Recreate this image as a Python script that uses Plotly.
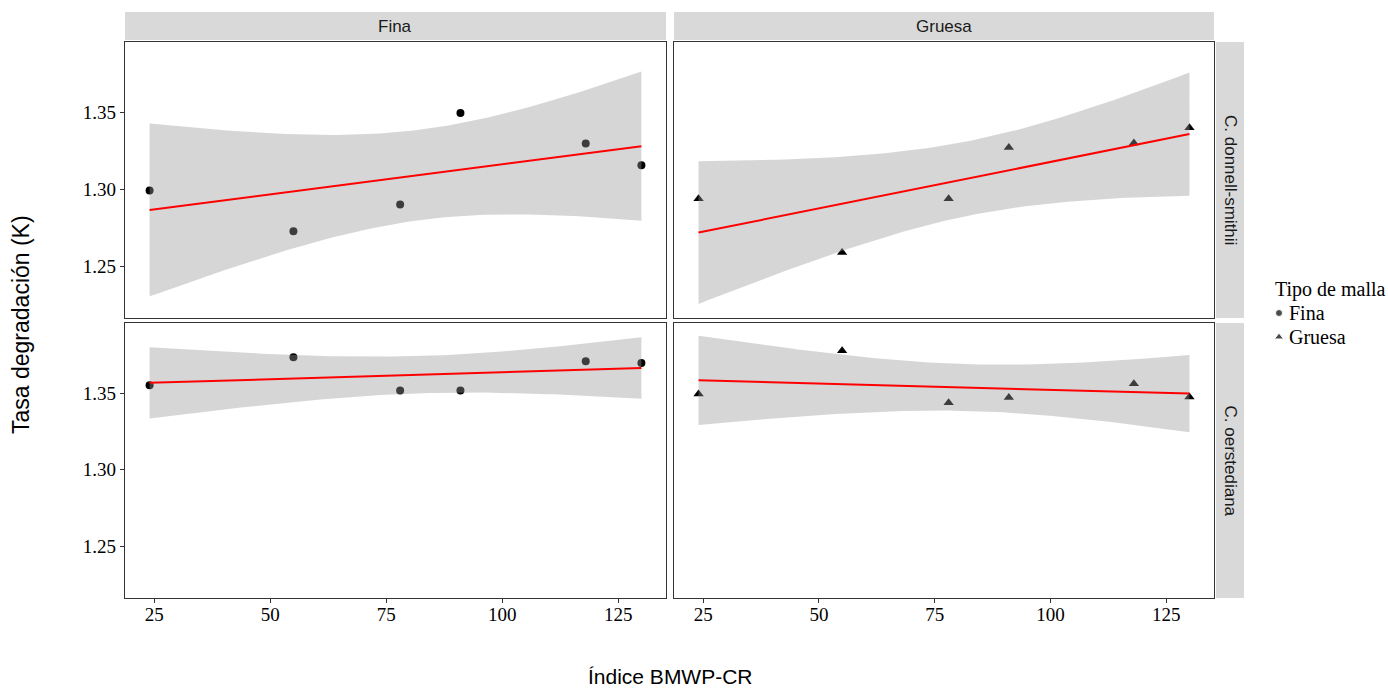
import numpy as np
import plotly.graph_objects as go

# ---- data ----
bmwp = [24, 55, 78, 91, 118, 130]
especies = ["C. donnell-smithii", "C. oerstediana"]
mallas = ["Fina", "Gruesa"]
k_fina_cds = [1.2992, 1.2727, 1.2901, 1.3496, 1.3297, 1.3156]
k_gruesa_cds = [1.2938, 1.2589, 1.2938, 1.3271, 1.3300, 1.3400]
k_fina_co = [1.3552, 1.3735, 1.3517, 1.3517, 1.3709, 1.3696]
k_gruesa_co = [1.3495, 1.3776, 1.3437, 1.3472, 1.3561, 1.3474]
x_ticks = [25, 50, 75, 100, 125]
y_ticks = [1.25, 1.30, 1.35]
legend_title = "Tipo de malla"

series = {
    (0, 0): k_fina_cds, (0, 1): k_gruesa_cds,
    (1, 0): k_fina_co, (1, 1): k_gruesa_co,
}
symbols = ["circle", "triangle-up"]

W, H = 1388, 692
def px_x(p): return p / W
def px_y(p): return 1 - p / H

col_px = [(125, 666), (674, 1214)]
row_px = [(42, 318), (323, 598)]
xr = [18.7, 135.3]
yr = [1.2162, 1.3958]
T_CRIT = 2.776445  # t(0.975, df=4)

fig = go.Figure()
layout = {}
SERIF = "Liberation Serif"
SANS = "Liberation Sans"

for r in range(2):
    for c in range(2):
        idx = r * 2 + c + 1
        xa = "x" if idx == 1 else f"x{idx}"
        ya = "y" if idx == 1 else f"y{idx}"
        xs = np.array(bmwp, dtype=float)
        ys = np.array(series[(r, c)], dtype=float)
        # points
        fig.add_trace(go.Scatter(x=xs, y=ys, mode="markers", xaxis=xa, yaxis=ya,
                                 marker=dict(symbol=symbols[c], size=8 if c == 0 else 9, color="black"),
                                 showlegend=False, hoverinfo="skip"))
        # linear fit with 95% CI (as geom_smooth(method='lm'))
        n = len(xs)
        mx = xs.mean()
        sxx = ((xs - mx) ** 2).sum()
        b = ((xs - mx) * (ys - ys.mean())).sum() / sxx
        a = ys.mean() - b * mx
        s = np.sqrt(((ys - (a + b * xs)) ** 2).sum() / (n - 2))
        xg = np.linspace(xs.min(), xs.max(), 80)
        yg = a + b * xg
        se = s * np.sqrt(1 / n + (xg - mx) ** 2 / sxx)
        lo, hi = yg - T_CRIT * se, yg + T_CRIT * se
        fig.add_trace(go.Scatter(x=np.concatenate([xg, xg[::-1]]), y=np.concatenate([hi, lo[::-1]]),
                                 mode="lines", fill="toself", fillcolor="rgba(153,153,153,0.4)",
                                 line=dict(width=0), xaxis=xa, yaxis=ya, showlegend=False, hoverinfo="skip"))
        fig.add_trace(go.Scatter(x=xg, y=yg, mode="lines", line=dict(color="red", width=2),
                                 xaxis=xa, yaxis=ya, showlegend=False, hoverinfo="skip"))
        axkey_x = "xaxis" if idx == 1 else f"xaxis{idx}"
        axkey_y = "yaxis" if idx == 1 else f"yaxis{idx}"
        layout[axkey_x] = dict(domain=[px_x(col_px[c][0]), px_x(col_px[c][1])], range=xr,
                               anchor=ya, tickvals=x_ticks, showticklabels=(r == 1),
                               ticks="outside" if r == 1 else "", ticklen=4, tickcolor="#333333",
                               ticklabelstandoff=-5,
                               showgrid=False, zeroline=False, showline=True, mirror=True,
                               linecolor="#333333", linewidth=1.3,
                               tickfont=dict(family=SERIF, size=19, color="black"))
        layout[axkey_y] = dict(domain=[px_y(row_px[r][1]), px_y(row_px[r][0])], range=yr,
                               anchor=xa, tickvals=y_ticks, tickformat=".2f", showticklabels=(c == 0),
                               ticks="outside" if c == 0 else "", ticklen=4, tickcolor="#333333",
                               showgrid=False, zeroline=False, showline=True, mirror=True,
                               linecolor="#333333", linewidth=1.3,
                               tickfont=dict(family=SERIF, size=19, color="black"))

# manual legend on a hidden pixel-unit axis
layout["xaxis5"] = dict(domain=[px_x(1250), 1.0], range=[1250, W], visible=False, fixedrange=True,
                        anchor="y5")
layout["yaxis5"] = dict(domain=[0, 1], range=[H, 0], visible=False, fixedrange=True, anchor="x5")
fig.add_trace(go.Scatter(x=[1279, 1279], y=[313, 337], mode="markers", xaxis="x5", yaxis="y5",
                         marker=dict(symbol=symbols, size=[7, 8], color="black"),
                         showlegend=False, hoverinfo="skip"))

shapes = []
annotations = []
for c in range(2):
    shapes.append(dict(type="rect", xref="paper", yref="paper", x0=px_x(col_px[c][0]), x1=px_x(col_px[c][1]),
                       y0=px_y(40), y1=px_y(12), fillcolor="#d9d9d9", line=dict(width=0), layer="below"))
    annotations.append(dict(text=mallas[c], xref="paper", yref="paper",
                            x=px_x((col_px[c][0] + col_px[c][1]) / 2), y=px_y(27),
                            xanchor="center", yanchor="middle",
                            showarrow=False, font=dict(family=SANS, size=17, color="#1a1a1a")))
for r in range(2):
    shapes.append(dict(type="rect", xref="paper", yref="paper", x0=px_x(1216), x1=px_x(1244),
                       y0=px_y(row_px[r][1]), y1=px_y(row_px[r][0]), fillcolor="#d9d9d9",
                       line=dict(width=0), layer="below"))
    annotations.append(dict(text=especies[r], xref="paper", yref="paper", x=px_x(1230),
                            y=px_y((row_px[r][0] + row_px[r][1]) / 2), textangle=90,
                            xanchor="center", yanchor="middle",
                            showarrow=False, font=dict(family=SANS, size=17, color="#1a1a1a")))

annotations.append(dict(text="Tasa degradación (K)", xref="paper", yref="paper", x=px_x(21), y=px_y(325),
                        textangle=-90, xanchor="center", yanchor="middle",
                        showarrow=False, font=dict(family=SANS, size=23, color="black")))
annotations.append(dict(text="Índice BMWP-CR", xref="paper", yref="paper", x=px_x(670), y=px_y(676),
                        xanchor="center", yanchor="middle",
                        showarrow=False, font=dict(family=SANS, size=21, color="black")))
# legend texts
annotations.append(dict(text=legend_title, xref="paper", yref="paper", x=px_x(1273), y=px_y(289),
                        xanchor="left", yanchor="middle", showarrow=False,
                        font=dict(family=SERIF, size=20, color="black")))
for i, name in enumerate(mallas):
    annotations.append(dict(text=name, xref="paper", yref="paper", x=px_x(1287), y=px_y(313 + 24 * i),
                            xanchor="left", yanchor="middle", showarrow=False,
                            font=dict(family=SERIF, size=20, color="black")))

fig.update_layout(
    width=W, height=H, margin=dict(l=0, r=0, t=0, b=0),
    paper_bgcolor="white", plot_bgcolor="white",
    shapes=shapes, annotations=annotations, showlegend=False,
    **layout,
)

fig.write_html("out.html")
